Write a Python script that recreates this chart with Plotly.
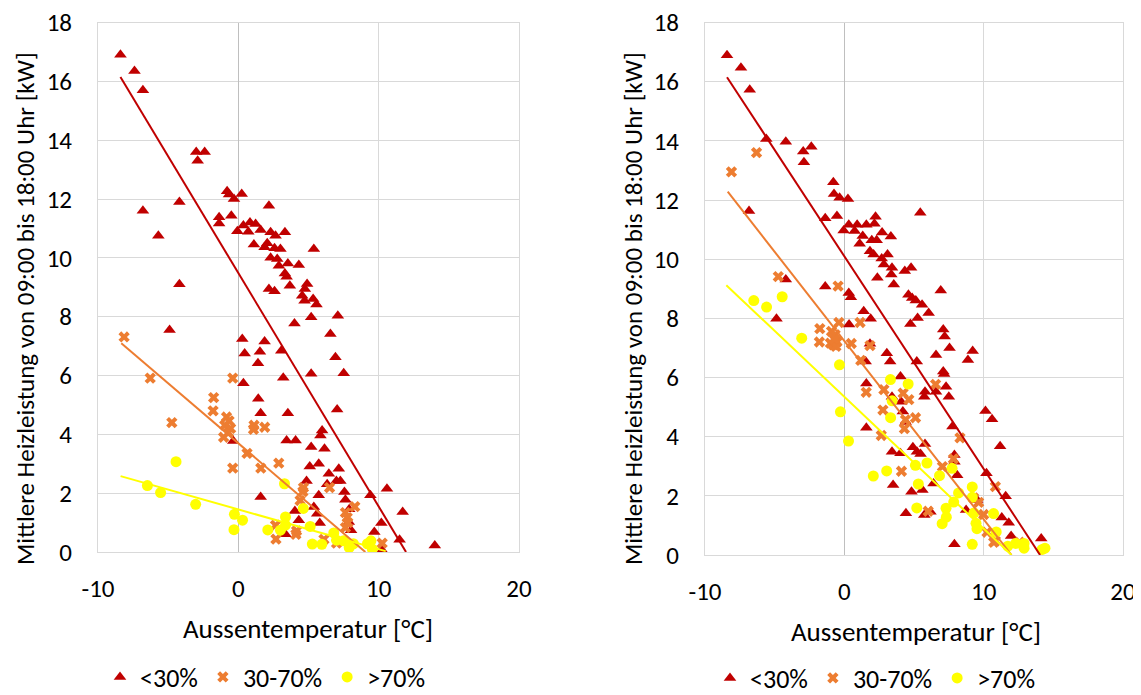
import plotly.graph_objects as go

# ---------------- data ----------------
# Left chart
L_red_x = [-8.4,-7.4,-6.8,-6.8,-5.7,-4.2,-4.2,-4.9,-3.0,-2.9,-2.4,-0.8,-0.66,-0.31,0.24,-1.37,-1.37,-0.5,2.18,-0.07,
           0.36,0.83,1.23,1.59,0.71,2.3,2.65,3.32,1.11,1.87,2.06,2.58,3.0,2.3,2.77,2.89,3.53,4.31,5.38,3.32,
           3.44,3.67,2.18,2.58,4.9,4.74,4.55,4.72,5.33,5.57,5.19,7.09,4.0,6.56,0.28,0.45,1.87,1.54,3.06,6.92,
           1.4,0.36,3.2,5.19,7.51,1.42,1.59,3.53,7.04,-0.36,3.44,4.08,5.97,5.85,5.19,6.14,5.09,5.73,6.45,7.16,
           4.86,6.33,6.99,7.27,7.56,7.63,5.73,5.38,5.62,5.8,1.59,4.03,4.31,9.41,10.59,11.71,10.19,9.69,11.49,3.36,
           10.24,7.87,8.03,7.9,14.0]
L_red_y = [16.9,16.35,15.7,11.6,10.75,11.9,9.1,7.55,13.6,13.3,13.6,12.26,12.15,12.0,12.17,11.38,11.17,11.43,11.77,10.9,
           11.1,11.2,11.15,10.95,10.89,10.87,10.75,10.87,10.45,10.36,10.5,10.33,10.3,10.0,9.96,9.73,9.81,9.76,10.3,9.47,
           9.36,9.05,8.94,8.86,9.11,8.94,8.71,8.54,8.6,8.41,7.98,8.03,7.77,7.41,7.24,6.75,7.16,6.81,6.84,6.62,
           6.42,5.74,5.92,6.06,6.08,5.21,4.72,4.72,4.84,3.77,3.79,3.79,4.13,3.96,3.57,3.51,2.91,3.0,2.66,2.83,
           2.41,2.3,2.41,2.41,2.04,1.78,1.93,1.53,1.3,0.99,1.87,1.39,1.08,1.93,2.15,1.36,0.99,0.68,0.42,0.6,
           0.06,1.02,0.74,1.45,0.22]
L_org_x = [-8.14,-6.28,-4.74,-1.76,-1.8,-0.4,-0.84,-0.66,-0.97,-0.55,-1.05,-0.7,1.12,1.08,1.88,-0.4,0.62,1.6,2.88,2.65,
           2.68,4.1,4.15,4.6,4.64,4.4,6.5,7.63,7.76,7.8,8.3,7.63,10.25,7.0,6.1]
L_org_y = [7.31,5.91,4.4,5.25,4.8,5.91,4.59,4.46,4.31,4.2,3.9,4.06,4.31,4.17,4.24,2.85,3.35,2.85,3.02,0.91,
           0.44,0.6,0.72,2.05,2.19,1.75,2.19,1.34,1.17,1.0,1.54,0.83,0.3,0.3,0.43]
L_yel_x = [-6.48,-5.54,-4.44,-3.04,-0.28,-0.31,0.3,2.1,3.29,3.0,3.36,3.36,4.63,5.12,5.27,5.95,6.8,7.0,7.5,7.9,
           8.2,9.2,9.45,9.55]
L_yel_y = [2.26,2.02,3.07,1.62,1.28,0.76,1.08,0.75,2.32,0.74,0.91,1.19,1.48,0.87,0.27,0.26,0.65,0.4,0.38,0.15,
           0.28,0.28,0.38,0.1]
# trend lines (end points)
L_trend_red_x, L_trend_red_y = [-8.4, 11.95], [16.15, 0.0]
L_trend_org_x, L_trend_org_y = [-8.34, 9.05], [7.1, 0.0]
L_trend_yel_x, L_trend_yel_y = [-8.39, 10.5], [2.58, 0.03]

# Right chart
R_red_x = [-8.42,-7.42,-6.79,-6.84,-5.6,-4.2,-2.95,-2.9,-2.37,-0.79,-0.74,-0.34,0.26,-1.37,-0.53,5.45,-0.05,0.32,0.74,0.92,
           1.32,1.58,2.24,2.16,2.71,3.34,1.97,2.32,1.1,1.84,2.1,2.68,3.1,2.84,3.42,3.37,3.55,2.37,4.34,4.79,
           -1.37,0.32,0.47,4.6,4.87,5.13,5.58,6.92,5.26,4.74,6.05,-4.2,-4.87,1.39,1.89,0.34,7.1,7.2,7.55,9.21,
           1.84,3.05,3.29,1.53,5.2,6.58,8.87,7.1,7.16,4.03,1.58,5.79,5.74,6.58,7.3,7.5,3.42,4.08,10.13,10.6,
           4.2,4.4,7.76,1.58,5.79,4.92,5.21,5.47,3.42,4.03,11.18,7.9,7.9,10.2,8.1,6.4,3.5,4.82,5.6,11.58,
           9.53,4.42,5.74,6.18,8.74,11.3,11.8,11.97,7.9,14.13]
R_red_y = [16.89,16.47,15.73,11.63,14.06,13.97,13.64,13.28,13.8,12.6,12.2,12.08,12.03,11.38,11.46,11.57,10.97,11.16,10.95,11.16,
           10.78,11.16,11.43,11.2,10.9,10.77,10.64,10.64,10.52,10.27,10.16,10.02,10.16,9.82,9.71,9.48,9.14,9.37,9.6,9.71,
           9.08,8.86,8.71,8.8,8.69,8.6,8.46,8.94,8.01,7.81,8.18,9.31,7.99,8.24,7.99,7.79,7.62,7.39,7.0,6.9,
           7.14,6.82,6.54,6.54,6.54,6.76,6.59,6.2,6.12,6.03,5.8,5.52,5.35,5.52,5.69,5.35,5.35,5.18,4.87,4.59,
           4.85,4.5,4.34,4.3,3.75,3.64,3.49,3.41,3.49,3.44,3.68,3.38,3.15,2.76,2.7,2.42,2.37,2.14,2.2,1.99,
           1.86,1.41,1.35,1.46,1.52,1.27,1.09,0.64,0.36,0.56]
R_org_x = [-8.1,-6.3,-4.74,-0.45,-1.76,-0.92,-0.39,1.13,-1.79,-1.0,-0.79,-0.53,-0.66,0.5,1.84,1.18,1.57,2.84,4.22,4.63,
           2.77,4.39,4.31,5.11,2.65,6.55,4.1,7.04,7.83,8.3,10.84,6.02,9.28,10.0,10.24,10.72,10.84,12.57,9.64,-0.6,
           -0.72]
R_org_y = [12.95,13.6,9.41,9.09,7.65,7.56,7.86,7.86,7.2,7.16,7.1,7.2,7.45,7.15,7.08,6.58,5.5,5.59,5.47,5.25,
           4.9,4.57,4.27,4.64,4.04,5.77,2.83,2.99,3.25,3.96,2.31,1.48,1.93,1.37,0.77,0.43,0.48,0.43,1.78,7.05,
           7.3]
R_yel_x = [-6.5,-5.58,-4.46,-3.06,-0.35,-0.28,0.3,3.31,4.58,3.43,3.32,2.08,3.04,5.1,5.93,6.83,7.73,5.31,5.2,9.18,
           9.18,8.2,7.85,7.3,7.32,7.02,9.3,9.45,9.52,10.71,9.18,10.9,11.73,12.3,12.9,12.9,14.2,14.4]
R_yel_y = [8.6,8.38,8.73,7.33,6.43,4.84,3.85,5.93,5.78,5.21,4.64,2.67,2.84,3.03,3.11,2.68,2.93,2.4,1.59,2.3,
           1.95,2.1,1.79,1.58,1.28,1.06,1.42,1.07,0.89,1.4,0.36,0.78,0.3,0.39,0.23,0.39,0.19,0.23]
R_trend_red_x, R_trend_red_y = [-8.42, 14.05], [16.15, 0.0]
R_trend_org_x, R_trend_org_y = [-8.37, 12.0], [12.28, 0.0]
R_trend_yel_x, R_trend_yel_y = [-8.47, 12.0], [9.12, 0.0]

series_names = ["<30%", "30-70%", ">70%"]
x_ticks = [-10, 0, 10, 20]
x_ticktext = ["-10", "0", "10", "20"]
y_ticks = [0, 2, 4, 6, 8, 10, 12, 14, 16, 18]
x_title = "Aussentemperatur [°C]"
y_title = "Mittlere Heizleistung von 09:00 bis 18:00 Uhr [kW]"

# ---------------- styling ----------------
RED, ORG, YEL = "#C00000", "#ED7D31", "#FFFF00"
FONT = "Calibri, Carlito, Lato, sans-serif"
W, H = 1141, 695
OFF = 8          # page body margin of the browser
FS = 25
LFS = 26

fig = go.Figure()

def add_panel(xa, ya, legend, red, org, yel, trends):
    (rx, ry), (ox, oy), (yx, yy) = red, org, yel
    fig.add_trace(go.Scatter(x=rx, y=ry, mode="markers", name=series_names[0], legend=legend,
                             xaxis=xa, yaxis=ya,
                             marker=dict(symbol="triangle-up", size=11, color=RED)))
    fig.add_trace(go.Scatter(x=ox, y=oy, mode="markers", name=series_names[1], legend=legend,
                             xaxis=xa, yaxis=ya,
                             marker=dict(symbol="x", size=10, color=ORG, line=dict(width=0))))
    fig.add_trace(go.Scatter(x=yx, y=yy, mode="markers", name=series_names[2], legend=legend,
                             xaxis=xa, yaxis=ya,
                             marker=dict(symbol="circle", size=11, color=YEL)))
    for (tx, ty), c in zip(trends, [RED, ORG, YEL]):
        fig.add_trace(go.Scatter(x=tx, y=ty, mode="lines", showlegend=False, hoverinfo="skip",
                                 xaxis=xa, yaxis=ya, line=dict(color=c, width=2)))

add_panel("x", "y", "legend", (L_red_x, L_red_y), (L_org_x, L_org_y), (L_yel_x, L_yel_y),
          [(L_trend_red_x, L_trend_red_y), (L_trend_org_x, L_trend_org_y), (L_trend_yel_x, L_trend_yel_y)])
add_panel("x2", "y2", "legend2", (R_red_x, R_red_y), (R_org_x, R_org_y), (R_yel_x, R_yel_y),
          [(R_trend_red_x, R_trend_red_y), (R_trend_org_x, R_trend_org_y), (R_trend_yel_x, R_trend_yel_y)])

def xaxis(domain, anchor):
    return dict(domain=domain, anchor=anchor, range=[-10, 20], tickvals=x_ticks, ticktext=x_ticktext,
                ticks="", automargin=False, ticklabeloverflow="allow",
                showgrid=True, gridcolor="#D9D9D9", gridwidth=1,
                zeroline=True, zerolinecolor="#BFBFBF", zerolinewidth=1,
                showline=True, mirror=True, linecolor="#D9D9D9", linewidth=1,
                tickfont=dict(family=FONT, size=FS, color="#000000"), ticklabelstandoff=14,
                fixedrange=True)

def yaxis(domain, anchor):
    return dict(domain=domain, anchor=anchor, range=[0, 18], tickvals=y_ticks, ticks="",
                automargin=False, ticklabeloverflow="allow",
                showgrid=True, gridcolor="#D9D9D9", gridwidth=1,
                zeroline=True, zerolinecolor="#BFBFBF", zerolinewidth=1,
                showline=True, mirror=True, linecolor="#D9D9D9", linewidth=1,
                tickfont=dict(family=FONT, size=FS, color="#000000"), ticklabelstandoff=20,
                fixedrange=True)

def px(xp):
    return (xp - OFF) / W

def py(yp):
    return 1 - (yp - OFF) / H

fig.update_layout(
    width=W, height=H, autosize=False,
    margin=dict(l=0, r=0, t=0, b=0, autoexpand=False),
    paper_bgcolor="white", plot_bgcolor="white",
    font=dict(family=FONT, size=FS, color="#000000"),
    xaxis=xaxis([px(98), px(519)], "y"),
    yaxis=yaxis([py(552), py(22.5)], "x"),
    xaxis2=xaxis([px(705), px(1123)], "y2"),
    yaxis2=yaxis([py(555), py(22.5)], "x2"),
    legend=dict(orientation="h", x=px(100), xanchor="left", y=py(677), yanchor="middle",
                font=dict(family=FONT, size=LFS, color="#000000"), bgcolor="rgba(0,0,0,0)",
                itemwidth=30, tracegroupgap=0),
    legend2=dict(orientation="h", x=px(710), xanchor="left", y=py(678), yanchor="middle",
                 font=dict(family=FONT, size=LFS, color="#000000"), bgcolor="rgba(0,0,0,0)",
                 itemwidth=30, tracegroupgap=0),
    annotations=[
        dict(text=x_title, x=px(308), y=py(628), xref="paper", yref="paper", showarrow=False,
             xanchor="center", yanchor="middle", font=dict(family=FONT, size=27, color="#000000")),
        dict(text=x_title, x=px(916), y=py(631), xref="paper", yref="paper", showarrow=False,
             xanchor="center", yanchor="middle", font=dict(family=FONT, size=27, color="#000000")),
        dict(text=y_title, x=px(25), y=py(309), xref="paper", yref="paper", showarrow=False, textangle=-90,
             xanchor="center", yanchor="middle", font=dict(family=FONT, size=FS, color="#000000")),
        dict(text=y_title, x=px(633), y=py(309), xref="paper", yref="paper", showarrow=False, textangle=-90,
             xanchor="center", yanchor="middle", font=dict(family=FONT, size=FS, color="#000000")),
    ],
)

fig.write_html("out.html")
